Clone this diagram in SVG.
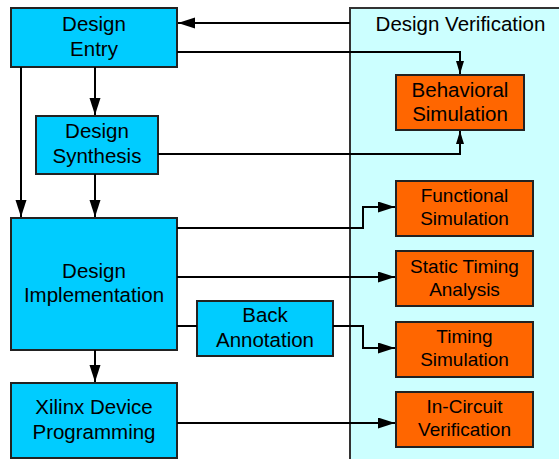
<svg xmlns="http://www.w3.org/2000/svg" width="559" height="459" viewBox="0 0 559 459">
<defs>
<marker id="big" markerUnits="userSpaceOnUse" markerWidth="18" markerHeight="12" refX="17" refY="5.5" orient="auto"><path d="M0,0 L17,5.5 L0,11 z" fill="#000"/></marker>
<marker id="small" markerUnits="userSpaceOnUse" markerWidth="14" markerHeight="9" refX="13" refY="4" orient="auto"><path d="M0,0 L13,4 L0,8 z" fill="#000"/></marker>
<style>
.blue{fill:#00CCFF;stroke:#222;stroke-width:2}
.orange{fill:#FF6600;stroke:#222;stroke-width:2}
.t{font-family:"Liberation Sans",Arial,sans-serif;font-size:20.5px;fill:#000;text-anchor:middle}
.s{font-family:"Liberation Sans",Arial,sans-serif;font-size:19px;fill:#000;text-anchor:middle}
.c{fill:none;stroke:#000;stroke-width:2}
</style>
</defs>
<rect width="559" height="459" fill="#fff"/>
<g id="design-verification">
<rect x="350" y="8" width="220" height="460" fill="#CCFFFF" stroke="#333" stroke-width="2"/>
<text class="t" x="460.5" y="31">Design Verification</text>
</g>
<g id="design-entry">
<rect class="blue" x="11" y="8" width="166" height="59"/>
<text class="t" x="94" y="31">Design</text>
<text class="t" x="94" y="56">Entry</text>
</g>
<g id="design-synthesis">
<rect class="blue" x="36" y="116" width="122" height="58"/>
<text class="t" x="97" y="138">Design</text>
<text class="t" x="97" y="163">Synthesis</text>
</g>
<g id="design-implementation">
<rect class="blue" x="11" y="218" width="166" height="132"/>
<text class="t" x="94" y="278">Design</text>
<text class="t" x="94" y="302">Implementation</text>
</g>
<g id="back-annotation">
<rect class="blue" x="197" y="301" width="136" height="55"/>
<text class="t" x="265" y="322">Back</text>
<text class="t" x="265" y="347">Annotation</text>
</g>
<g id="xilinx-device-programming">
<rect class="blue" x="11" y="383" width="166" height="75"/>
<text class="t" x="94" y="414">Xilinx Device</text>
<text class="t" x="94" y="439">Programming</text>
</g>
<g id="behavioral-simulation">
<rect class="orange" x="396" y="75" width="128" height="55"/>
<text class="t" x="460" y="97">Behavioral</text>
<text class="t" x="460" y="121">Simulation</text>
</g>
<g id="functional-simulation">
<rect class="orange" x="396" y="181" width="137" height="55"/>
<text class="s" x="464.5" y="202">Functional</text>
<text class="s" x="464.5" y="225">Simulation</text>
</g>
<g id="static-timing-analysis">
<rect class="orange" x="396" y="251" width="137" height="55"/>
<text class="s" x="464.5" y="273">Static Timing</text>
<text class="s" x="464.5" y="296">Analysis</text>
</g>
<g id="timing-simulation">
<rect class="orange" x="396" y="322" width="137" height="55"/>
<text class="s" x="464.5" y="343">Timing</text>
<text class="s" x="464.5" y="366">Simulation</text>
</g>
<g id="in-circuit-verification">
<rect class="orange" x="396" y="392" width="137" height="55"/>
<text class="s" x="464.5" y="413">In-Circuit</text>
<text class="s" x="464.5" y="436">Verification</text>
</g>
<g id="connectors">
<path class="c" d="M350,23 H178" marker-end="url(#big)"/>
<path class="c" d="M177,52 H460 V74" marker-end="url(#small)"/>
<path class="c" d="M158,154 H460 V131" marker-end="url(#small)"/>
<path class="c" d="M21,67 V217" marker-end="url(#big)"/>
<path class="c" d="M95,67 V115" marker-end="url(#big)"/>
<path class="c" d="M95,174 V217" marker-end="url(#big)"/>
<path class="c" d="M177,228 H363 V207 H395" marker-end="url(#big)"/>
<path class="c" d="M177,277 H395" marker-end="url(#big)"/>
<path class="c" d="M177,326 H197"/>
<path class="c" d="M333,326 H363 V348 H395" marker-end="url(#big)"/>
<path class="c" d="M95,350 V382" marker-end="url(#big)"/>
<path class="c" d="M177,423 H395" marker-end="url(#big)"/>
</g>
</svg>
